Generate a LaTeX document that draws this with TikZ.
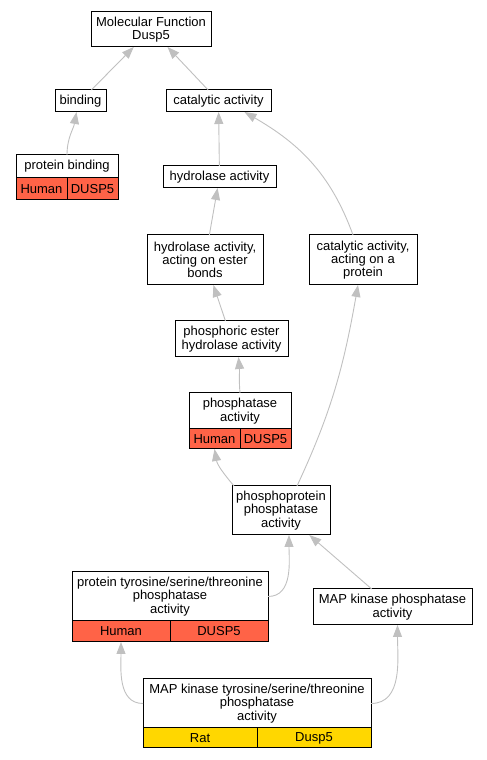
\documentclass[tikz,border=0pt]{standalone}
\usepackage{fontspec}
\setmainfont{Liberation Sans}
\usepackage{tikz}
\usetikzlibrary{positioning,arrows.meta}
\definecolor{tomato}{RGB}{255,99,71}
\definecolor{gold}{RGB}{255,215,0}
\definecolor{isagray}{RGB}{192,192,192}
\tikzstyle{term}=[draw,fill=white,line width=1pt,inner sep=0pt,outer sep=0pt,align=center,font=\fontsize{13}{13.3}\selectfont]
\tikzstyle{human}=[term,fill=tomato]
\tikzstyle{rat}=[term,fill=gold]
\tikzstyle{isa}=[-{Triangle[length=12pt,width=9pt]},draw=isagray,line width=0.9pt]

\begin{document}
\begin{tikzpicture}[x=1pt,y=1pt]
\useasboundingbox (0,0) rectangle (487,760);
\node (A) [term,minimum width=120pt,minimum height=35pt] at (151,730.5) {Molecular Function\\Dusp5};
\node (B) [term,minimum width=51pt,minimum height=22pt] at (80.5,659) {binding};
\node (C) [term,minimum width=105pt,minimum height=22pt] at (218.5,659) {catalytic activity};
\node (D) [term,minimum width=102pt,minimum height=23pt] at (67,593.5) {protein binding};
\node (Dh) [human,minimum width=51pt,minimum height=22pt,below right=0pt and 0pt of D.south west] {Human};
\node (Dg) [human,minimum width=51pt,minimum height=22pt,right=0pt of Dh] {DUSP5};
\node (E) [term,minimum width=113pt,minimum height=22pt] at (219.5,583) {hydrolase activity};
\node (F) [term,minimum width=116pt,minimum height=50pt] at (205,500) {hydrolase activity,\\acting on ester\\bonds};
\node (G) [term,minimum width=108pt,minimum height=50pt] at (363,500) {catalytic activity,\\acting on a\\protein};
\node (H) [term,minimum width=113pt,minimum height=36pt] at (231.5,421) {phosphoric ester\\hydrolase activity};
\node (I) [term,minimum width=102pt,minimum height=36pt] at (240,349) {phosphatase\\activity};
\node (Ih) [human,minimum width=51pt,minimum height=20pt,below right=0pt and 0pt of I.south west] {Human};
\node (Ig) [human,minimum width=51pt,minimum height=20pt,right=0pt of Ih] {DUSP5};
\node (J) [term,minimum width=98pt,minimum height=49pt] at (281,249.5) {phosphoprotein\\phosphatase\\activity};
\node (K) [term,minimum width=196pt,minimum height=49pt] at (170,163.5) {protein tyrosine/serine/threonine\\phosphatase\\activity};
\node (Kh) [human,minimum width=98pt,minimum height=21pt,below right=0pt and 0pt of K.south west] {Human};
\node (Kg) [human,minimum width=98pt,minimum height=21pt,right=0pt of Kh] {DUSP5};
\node (L) [term,minimum width=159pt,minimum height=36pt] at (392.5,153) {MAP kinase phosphatase\\activity};
\node (M) [term,minimum width=228pt,minimum height=49pt] at (257,56.5) {MAP kinase tyrosine/serine/threonine\\phosphatase\\activity};
\node (Mr) [rat,minimum width=114pt,minimum height=20pt,below right=0pt and 0pt of M.south west] {Rat};
\node (Mg) [rat,minimum width=114pt,minimum height=20pt,right=0pt of Mr] {Dusp5};

\draw[isa] (B) -- (A);
\draw[isa] (C) -- (A);
\draw[isa] (D.north) to[out=90,in=-100] ([xshift=-4pt]B.south);
\draw[isa] (E) -- (C);
\draw[isa] ([xshift=-10pt]G.north) to[out=110,in=-30] ([xshift=26pt]C.south);
\draw[isa] (F) -- (E);
\draw[isa] (H) -- (F);
\draw[isa] (I.north) to[out=95,in=-85] ([xshift=7pt]H.south);
\draw[isa] ([xshift=2pt]J.north west) to[out=130,in=-80] (Ih.south);
\draw[isa] ([xshift=16pt]J.north) to[out=65,in=-100] ([xshift=-5pt]G.south);
\draw[isa] (K.east) to[out=0,in=-90] ([xshift=8pt]J.south);
\draw[isa] (L) -- (J);
\draw[isa] (M.west) to[out=180,in=-90] (Kh.south);
\draw[isa] (M.east) to[out=0,in=-90] ([xshift=5pt]L.south);
\end{tikzpicture}
\end{document}
